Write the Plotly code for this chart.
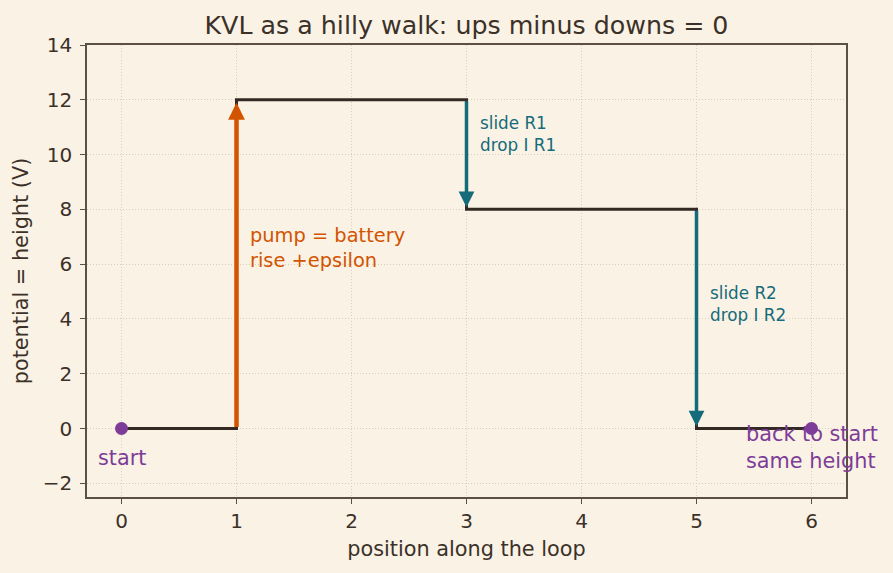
import plotly.graph_objects as go

# data
pos = [0, 1, 3, 5, 6]
height = [0, 12, 8, 0, 0]
battery = {"x": 1, "from": 0, "to": 12}
drops = [{"x": 3, "from": 12, "to": 8}, {"x": 5, "from": 8, "to": 0}]
endpoints_x = [0, 6]
endpoints_y = [0, 0]
x_ticks = [0, 1, 2, 3, 4, 5, 6]
y_ticks = [-2, 0, 2, 4, 6, 8, 10, 12, 14]

BG = "#faf2e4"
INK = "#3b3129"
AX = "#5c5045"
ORANGE = "#d35400"
TEAL = "#146b7a"
PURPLE = "#7d3c98"
FONT = "DejaVu Sans"

fig = go.Figure()
fig.add_trace(go.Scatter(x=pos, y=height, mode="lines", line_shape="hv",
                         line=dict(color="#332a24", width=3), hoverinfo="skip"))
fig.add_trace(go.Scatter(x=endpoints_x, y=endpoints_y, mode="markers",
                         marker=dict(color=PURPLE, size=13), hoverinfo="skip"))

# battery arrow
fig.add_annotation(x=battery["x"], y=battery["to"], ax=battery["x"], ay=battery["from"],
                   xref="x", yref="y", axref="x", ayref="y", text="", showarrow=True,
                   arrowhead=2, arrowsize=0.75, arrowwidth=4.5, arrowcolor=ORANGE,
                   standoff=3)
for d in drops:
    fig.add_annotation(x=d["x"], y=d["to"], ax=d["x"], ay=d["from"],
                       xref="x", yref="y", axref="x", ayref="y", text="", showarrow=True,
                       arrowhead=2, arrowsize=0.9, arrowwidth=3.5, arrowcolor=TEAL,
                       standoff=2)

fig.add_annotation(x=1.1, y=6.6, text="pump = battery<br>rise +epsilon", showarrow=False,
                   xanchor="left", yanchor="middle", align="left",
                   font=dict(family=FONT, size=19.4, color=ORANGE))
fig.add_annotation(x=3.1, y=10.75, text="slide R1<br>drop I R1", showarrow=False,
                   xanchor="left", yanchor="middle", align="left",
                   font=dict(family=FONT, size=16.8, color=TEAL))
fig.add_annotation(x=5.1, y=4.56, text="slide R2<br>drop I R2", showarrow=False,
                   xanchor="left", yanchor="middle", align="left",
                   font=dict(family=FONT, size=16.8, color=TEAL))
fig.add_annotation(x=0, y=-1.06, text="start", showarrow=False,
                   xanchor="center", yanchor="middle",
                   font=dict(family=FONT, size=20.8, color=PURPLE))
fig.add_annotation(x=5.41, y=-0.68, text="back to start<br>same height", showarrow=False,
                   xanchor="left", yanchor="middle", align="left",
                   font=dict(family=FONT, size=20.8, color=PURPLE))

axis_common = dict(showline=True, mirror=True, linecolor=AX, linewidth=1.5,
                   ticks="outside", ticklen=5, tickcolor=AX, tickwidth=1.2,
                   showgrid=True, gridcolor="#d8cfbf", griddash="1px,2px", gridwidth=1,
                   zeroline=False, tickfont=dict(family=FONT, size=20, color=INK))

fig.update_layout(
    width=893, height=573,
    paper_bgcolor=BG, plot_bgcolor=BG,
    showlegend=False,
    margin=dict(l=87, r=47, t=45, b=76),
    title=dict(text="KVL as a hilly walk: ups minus downs = 0", x=0.5, xanchor="center",
               xref="paper", y=1 - 25 / 573, yanchor="middle",
               font=dict(family=FONT, size=25.3, color=INK)),
    xaxis=dict(range=[-0.3, 6.3], tickvals=x_ticks,
               title=dict(text="position along the loop", standoff=10,
                          font=dict(family=FONT, size=20.8, color=INK)),
               **axis_common),
    yaxis=dict(range=[-2.5, 14], tickvals=y_ticks, ticklabelstandoff=4,
               ticktext=[("\u2212" + str(-v)) if v < 0 else str(v) for v in y_ticks],
               title=dict(text="potential = height (V)", standoff=8,
                          font=dict(family=FONT, size=20.8, color=INK)),
               **axis_common),
)

fig.write_html("out.html")
